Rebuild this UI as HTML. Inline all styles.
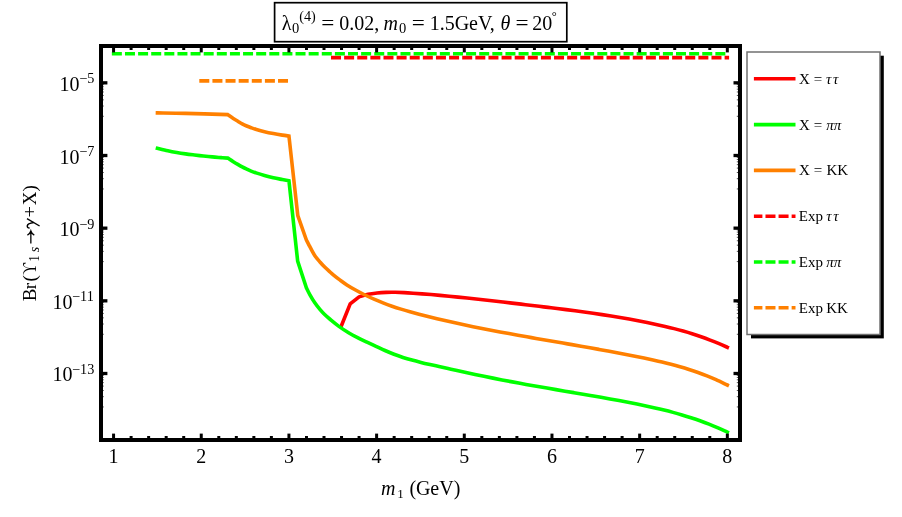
<!DOCTYPE html>
<html><head><meta charset="utf-8"><title>plot</title>
<style>html,body{margin:0;padding:0;background:#fff}svg{display:block;will-change:transform}text{font-family:"Liberation Serif",serif;fill:#000}.i{font-style:italic}</style></head><body>
<svg width="902" height="517" viewBox="0 0 902 517">
<rect width="902" height="517" fill="#fff"/>
<g fill="none" stroke-width="3.6" stroke-linejoin="miter" stroke-linecap="square">
<path stroke="#ff0000" d="M341.30,326.00L350.20,303.80L359.10,296.90C360.60,296.47 365.10,294.96 368.10,294.31C371.10,293.66 374.10,293.31 377.10,292.98C380.10,292.66 383.10,292.48 386.10,292.36C389.10,292.25 392.10,292.25 395.10,292.29C398.10,292.33 401.10,292.46 404.10,292.61C407.10,292.76 410.10,292.97 413.10,293.18C416.10,293.38 419.10,293.61 422.10,293.85C425.10,294.08 428.10,294.32 431.10,294.58C434.10,294.83 437.10,295.09 440.10,295.37C443.10,295.64 446.10,295.92 449.10,296.21C452.10,296.50 455.10,296.79 458.10,297.10C461.10,297.40 464.10,297.71 467.10,298.03C470.10,298.34 473.10,298.66 476.10,298.99C479.10,299.32 482.10,299.65 485.10,299.99C488.10,300.32 491.10,300.66 494.10,301.01C497.10,301.35 500.10,301.70 503.10,302.05C506.10,302.40 509.10,302.75 512.10,303.10C515.10,303.45 518.10,303.81 521.10,304.16C524.10,304.52 527.10,304.87 530.10,305.23C533.10,305.59 536.10,305.94 539.10,306.30C542.10,306.66 545.10,307.02 548.10,307.38C551.10,307.75 554.10,308.11 557.10,308.49C560.10,308.86 563.10,309.23 566.10,309.62C569.10,310.00 572.10,310.39 575.10,310.79C578.10,311.19 581.10,311.59 584.10,312.01C587.10,312.42 590.10,312.84 593.10,313.28C596.10,313.71 599.10,314.16 602.10,314.61C605.10,315.07 608.10,315.54 611.10,316.02C614.10,316.50 617.10,317.00 620.10,317.51C623.10,318.02 626.10,318.54 629.10,319.09C632.10,319.63 635.10,320.19 638.10,320.76C641.10,321.34 644.10,321.93 647.10,322.54C650.10,323.16 653.10,323.79 656.10,324.44C659.10,325.09 662.10,325.76 665.10,326.46C668.10,327.16 671.10,327.87 674.10,328.63C677.10,329.39 680.10,330.18 683.10,331.02C686.10,331.87 689.10,332.75 692.10,333.69C695.10,334.64 698.10,335.64 701.10,336.70C704.10,337.76 707.10,338.89 710.10,340.06C713.10,341.22 716.23,342.51 719.10,343.71C721.97,344.92 725.93,346.68 727.30,347.28"/>
<path stroke="#00ff00" d="M157.45,148.30C159.17,148.71 164.59,150.05 167.80,150.75C171.01,151.45 173.73,151.97 176.70,152.50C179.67,153.03 182.63,153.48 185.60,153.90C188.57,154.32 191.53,154.65 194.50,155.00C197.47,155.35 200.43,155.68 203.40,156.00C206.37,156.32 209.33,156.63 212.30,156.90C215.27,157.17 218.62,157.40 221.20,157.60C223.78,157.80 226.70,158.02 227.80,158.10C228.72,158.69 231.63,160.60 233.30,161.65C234.97,162.70 236.32,163.53 237.80,164.40C239.28,165.28 240.72,166.12 242.20,166.90C243.68,167.68 245.22,168.40 246.70,169.10C248.18,169.80 249.62,170.50 251.10,171.10C252.58,171.70 253.37,171.97 255.60,172.70C257.83,173.43 261.53,174.65 264.50,175.50C267.47,176.35 270.43,177.13 273.40,177.80C276.37,178.47 279.71,179.02 282.30,179.50C284.89,179.98 287.84,180.50 288.95,180.70L297.65,261.00L306.30,287.60C306.93,288.85 308.65,292.52 310.10,295.10C311.55,297.68 313.37,300.72 315.00,303.10C316.63,305.48 318.33,307.54 319.90,309.40C321.47,311.26 322.67,312.57 324.40,314.25C326.13,315.93 327.88,317.48 330.30,319.50C332.72,321.52 335.78,324.10 338.90,326.35C342.02,328.60 345.82,331.10 349.00,333.02C352.18,334.95 355.00,336.36 358.00,337.90C361.00,339.44 364.00,340.82 367.00,342.24C370.00,343.65 373.00,345.01 376.00,346.39C379.00,347.77 382.00,349.20 385.00,350.52C388.00,351.83 391.00,353.12 394.00,354.27C397.00,355.42 400.00,356.46 403.00,357.43C406.00,358.40 409.00,359.27 412.00,360.10C415.00,360.93 418.00,361.68 421.00,362.41C424.00,363.15 427.00,363.83 430.00,364.51C433.00,365.20 436.00,365.85 439.00,366.52C442.00,367.19 445.00,367.86 448.00,368.52C451.00,369.18 454.00,369.85 457.00,370.50C460.00,371.16 463.00,371.82 466.00,372.46C469.00,373.11 472.00,373.76 475.00,374.39C478.00,375.03 481.00,375.66 484.00,376.28C487.00,376.91 490.00,377.52 493.00,378.13C496.00,378.73 499.00,379.33 502.00,379.92C505.00,380.50 508.00,381.08 511.00,381.64C514.00,382.21 517.00,382.77 520.00,383.32C523.00,383.87 526.00,384.40 529.00,384.94C532.00,385.48 535.00,386.00 538.00,386.53C541.00,387.05 544.00,387.57 547.00,388.08C550.00,388.60 553.00,389.11 556.00,389.62C559.00,390.13 562.00,390.64 565.00,391.15C568.00,391.65 571.00,392.16 574.00,392.67C577.00,393.18 580.00,393.69 583.00,394.20C586.00,394.71 589.00,395.23 592.00,395.75C595.00,396.27 598.00,396.79 601.00,397.32C604.00,397.85 607.00,398.38 610.00,398.93C613.00,399.47 616.00,400.02 619.00,400.58C622.00,401.14 625.00,401.70 628.00,402.28C631.00,402.86 634.00,403.44 637.00,404.05C640.00,404.65 643.00,405.27 646.00,405.91C649.00,406.56 652.00,407.21 655.00,407.90C658.00,408.59 661.00,409.30 664.00,410.05C667.00,410.79 670.00,411.57 673.00,412.38C676.00,413.19 679.00,414.04 682.00,414.93C685.00,415.82 688.00,416.74 691.00,417.72C694.00,418.70 697.00,419.71 700.00,420.79C703.00,421.86 706.00,422.98 709.00,424.16C712.00,425.35 714.95,426.56 718.00,427.88C721.05,429.20 725.75,431.40 727.30,432.10"/>
<path stroke="#ff8000" d="M157.45,112.90C162.14,112.98 173.88,113.06 185.60,113.35C197.32,113.64 220.77,114.43 227.80,114.65C228.72,115.29 231.63,117.41 233.30,118.50C234.97,119.59 236.32,120.30 237.80,121.20C239.28,122.10 240.72,123.10 242.20,123.90C243.68,124.70 245.22,125.37 246.70,126.00C248.18,126.63 249.62,127.17 251.10,127.70C252.58,128.23 253.37,128.53 255.60,129.20C257.83,129.87 261.53,130.97 264.50,131.70C267.47,132.43 270.43,133.03 273.40,133.60C276.37,134.17 279.71,134.70 282.30,135.10C284.89,135.50 287.84,135.85 288.95,136.00L297.80,215.60L306.40,240.00C306.85,240.88 308.13,243.45 309.10,245.30C310.07,247.15 311.15,249.23 312.20,251.10C313.25,252.97 314.07,254.65 315.40,256.50C316.73,258.35 318.65,260.43 320.20,262.20C321.75,263.97 323.22,265.62 324.70,267.10C326.18,268.58 327.62,269.77 329.10,271.10C330.58,272.43 331.82,273.63 333.60,275.10C335.38,276.57 337.58,278.27 339.80,279.90C342.02,281.53 344.20,283.17 346.90,284.90C349.60,286.63 352.98,288.59 356.00,290.27C359.02,291.96 362.00,293.52 365.00,295.01C368.00,296.50 371.00,297.88 374.00,299.20C377.00,300.51 380.00,301.73 383.00,302.90C386.00,304.06 389.00,305.15 392.00,306.18C395.00,307.22 398.00,308.19 401.00,309.12C404.00,310.05 407.00,310.93 410.00,311.78C413.00,312.62 416.00,313.43 419.00,314.22C422.00,315.01 425.00,315.76 428.00,316.51C431.00,317.26 434.00,317.99 437.00,318.71C440.00,319.42 443.00,320.12 446.00,320.81C449.00,321.50 452.00,322.17 455.00,322.83C458.00,323.49 461.00,324.14 464.00,324.78C467.00,325.41 470.00,326.04 473.00,326.65C476.00,327.27 479.00,327.87 482.00,328.47C485.00,329.06 488.00,329.65 491.00,330.22C494.00,330.80 497.00,331.37 500.00,331.93C503.00,332.49 506.00,333.05 509.00,333.60C512.00,334.15 515.00,334.69 518.00,335.23C521.00,335.77 524.00,336.30 527.00,336.83C530.00,337.36 533.00,337.88 536.00,338.41C539.00,338.93 542.00,339.45 545.00,339.97C548.00,340.49 551.00,341.01 554.00,341.53C557.00,342.05 560.00,342.56 563.00,343.08C566.00,343.60 569.00,344.12 572.00,344.64C575.00,345.16 578.00,345.68 581.00,346.21C584.00,346.73 587.00,347.26 590.00,347.80C593.00,348.33 596.00,348.87 599.00,349.41C602.00,349.95 605.00,350.50 608.00,351.05C611.00,351.61 614.00,352.17 617.00,352.74C620.00,353.31 623.00,353.88 626.00,354.47C629.00,355.05 632.00,355.64 635.00,356.25C638.00,356.85 641.00,357.46 644.00,358.09C647.00,358.72 650.00,359.35 653.00,360.01C656.00,360.68 659.00,361.35 662.00,362.07C665.00,362.78 668.00,363.51 671.00,364.29C674.00,365.07 677.00,365.88 680.00,366.74C683.00,367.60 686.00,368.50 689.00,369.45C692.00,370.41 695.00,371.41 698.00,372.47C701.00,373.54 704.00,374.66 707.00,375.85C710.00,377.04 712.62,378.10 716.00,379.62C719.38,381.15 725.42,384.11 727.30,385.00"/>
</g>
<g fill="none" stroke-width="3.6" stroke-dasharray="10 3.12">
<line stroke="#ff0000" x1="331.0" y1="57.6" x2="729.1" y2="57.6"/>
<line stroke="#00ff00" x1="111.85" y1="53.7" x2="726" y2="53.7"/>
<line stroke="#ff8000" x1="199.3" y1="80.9" x2="289" y2="80.9"/>
</g>
<rect x="101.0" y="46.0" width="639.0" height="394.0" fill="none" stroke="#000" stroke-width="4.0"/>
<g stroke="#000" stroke-width="3" fill="none">
<line x1="113.57" y1="438.0" x2="113.57" y2="433.6"/><line x1="113.57" y1="48.0" x2="113.57" y2="52.4"/>
<line x1="131.11" y1="438.0" x2="131.11" y2="436.0"/><line x1="131.11" y1="48.0" x2="131.11" y2="50.0"/>
<line x1="148.64" y1="438.0" x2="148.64" y2="436.0"/><line x1="148.64" y1="48.0" x2="148.64" y2="50.0"/>
<line x1="166.18" y1="438.0" x2="166.18" y2="436.0"/><line x1="166.18" y1="48.0" x2="166.18" y2="50.0"/>
<line x1="183.71" y1="438.0" x2="183.71" y2="436.0"/><line x1="183.71" y1="48.0" x2="183.71" y2="50.0"/>
<line x1="201.25" y1="438.0" x2="201.25" y2="433.6"/><line x1="201.25" y1="48.0" x2="201.25" y2="52.4"/>
<line x1="218.79" y1="438.0" x2="218.79" y2="436.0"/><line x1="218.79" y1="48.0" x2="218.79" y2="50.0"/>
<line x1="236.32" y1="438.0" x2="236.32" y2="436.0"/><line x1="236.32" y1="48.0" x2="236.32" y2="50.0"/>
<line x1="253.86" y1="438.0" x2="253.86" y2="436.0"/><line x1="253.86" y1="48.0" x2="253.86" y2="50.0"/>
<line x1="271.39" y1="438.0" x2="271.39" y2="436.0"/><line x1="271.39" y1="48.0" x2="271.39" y2="50.0"/>
<line x1="288.93" y1="438.0" x2="288.93" y2="433.6"/><line x1="288.93" y1="48.0" x2="288.93" y2="52.4"/>
<line x1="306.47" y1="438.0" x2="306.47" y2="436.0"/><line x1="306.47" y1="48.0" x2="306.47" y2="50.0"/>
<line x1="324.00" y1="438.0" x2="324.00" y2="436.0"/><line x1="324.00" y1="48.0" x2="324.00" y2="50.0"/>
<line x1="341.54" y1="438.0" x2="341.54" y2="436.0"/><line x1="341.54" y1="48.0" x2="341.54" y2="50.0"/>
<line x1="359.07" y1="438.0" x2="359.07" y2="436.0"/><line x1="359.07" y1="48.0" x2="359.07" y2="50.0"/>
<line x1="376.61" y1="438.0" x2="376.61" y2="433.6"/><line x1="376.61" y1="48.0" x2="376.61" y2="52.4"/>
<line x1="394.15" y1="438.0" x2="394.15" y2="436.0"/><line x1="394.15" y1="48.0" x2="394.15" y2="50.0"/>
<line x1="411.68" y1="438.0" x2="411.68" y2="436.0"/><line x1="411.68" y1="48.0" x2="411.68" y2="50.0"/>
<line x1="429.22" y1="438.0" x2="429.22" y2="436.0"/><line x1="429.22" y1="48.0" x2="429.22" y2="50.0"/>
<line x1="446.75" y1="438.0" x2="446.75" y2="436.0"/><line x1="446.75" y1="48.0" x2="446.75" y2="50.0"/>
<line x1="464.29" y1="438.0" x2="464.29" y2="433.6"/><line x1="464.29" y1="48.0" x2="464.29" y2="52.4"/>
<line x1="481.83" y1="438.0" x2="481.83" y2="436.0"/><line x1="481.83" y1="48.0" x2="481.83" y2="50.0"/>
<line x1="499.36" y1="438.0" x2="499.36" y2="436.0"/><line x1="499.36" y1="48.0" x2="499.36" y2="50.0"/>
<line x1="516.90" y1="438.0" x2="516.90" y2="436.0"/><line x1="516.90" y1="48.0" x2="516.90" y2="50.0"/>
<line x1="534.43" y1="438.0" x2="534.43" y2="436.0"/><line x1="534.43" y1="48.0" x2="534.43" y2="50.0"/>
<line x1="551.97" y1="438.0" x2="551.97" y2="433.6"/><line x1="551.97" y1="48.0" x2="551.97" y2="52.4"/>
<line x1="569.51" y1="438.0" x2="569.51" y2="436.0"/><line x1="569.51" y1="48.0" x2="569.51" y2="50.0"/>
<line x1="587.04" y1="438.0" x2="587.04" y2="436.0"/><line x1="587.04" y1="48.0" x2="587.04" y2="50.0"/>
<line x1="604.58" y1="438.0" x2="604.58" y2="436.0"/><line x1="604.58" y1="48.0" x2="604.58" y2="50.0"/>
<line x1="622.11" y1="438.0" x2="622.11" y2="436.0"/><line x1="622.11" y1="48.0" x2="622.11" y2="50.0"/>
<line x1="639.65" y1="438.0" x2="639.65" y2="433.6"/><line x1="639.65" y1="48.0" x2="639.65" y2="52.4"/>
<line x1="657.19" y1="438.0" x2="657.19" y2="436.0"/><line x1="657.19" y1="48.0" x2="657.19" y2="50.0"/>
<line x1="674.72" y1="438.0" x2="674.72" y2="436.0"/><line x1="674.72" y1="48.0" x2="674.72" y2="50.0"/>
<line x1="692.26" y1="438.0" x2="692.26" y2="436.0"/><line x1="692.26" y1="48.0" x2="692.26" y2="50.0"/>
<line x1="709.79" y1="438.0" x2="709.79" y2="436.0"/><line x1="709.79" y1="48.0" x2="709.79" y2="50.0"/>
<line x1="727.33" y1="438.0" x2="727.33" y2="433.6"/><line x1="727.33" y1="48.0" x2="727.33" y2="52.4"/>
</g>
<g stroke="#000" stroke-width="3.3" fill="none">
<line x1="103.0" y1="82.83" x2="107.4" y2="82.83"/><line x1="738.0" y1="82.83" x2="733.5" y2="82.83"/>
<line x1="103.0" y1="155.50" x2="107.4" y2="155.50"/><line x1="738.0" y1="155.50" x2="733.5" y2="155.50"/>
<line x1="103.0" y1="228.16" x2="107.4" y2="228.16"/><line x1="738.0" y1="228.16" x2="733.5" y2="228.16"/>
<line x1="103.0" y1="300.83" x2="107.4" y2="300.83"/><line x1="738.0" y1="300.83" x2="733.5" y2="300.83"/>
<line x1="103.0" y1="373.49" x2="107.4" y2="373.49"/><line x1="738.0" y1="373.49" x2="733.5" y2="373.49"/>
</g>
<g stroke="#000" stroke-width="0.8" fill="none" opacity="0.85">
<line x1="103.0" y1="84.67" x2="103.75" y2="84.67"/><line x1="738.0" y1="84.67" x2="736.8" y2="84.67"/>
<line x1="103.0" y1="86.75" x2="103.75" y2="86.75"/><line x1="738.0" y1="86.75" x2="736.8" y2="86.75"/>
<line x1="103.0" y1="89.15" x2="103.75" y2="89.15"/><line x1="738.0" y1="89.15" x2="736.8" y2="89.15"/>
<line x1="103.0" y1="91.98" x2="103.75" y2="91.98"/><line x1="738.0" y1="91.98" x2="736.8" y2="91.98"/>
<line x1="103.0" y1="95.43" x2="103.75" y2="95.43"/><line x1="738.0" y1="95.43" x2="736.8" y2="95.43"/>
<line x1="103.0" y1="99.85" x2="103.75" y2="99.85"/><line x1="738.0" y1="99.85" x2="736.8" y2="99.85"/>
<line x1="103.0" y1="106.02" x2="103.75" y2="106.02"/><line x1="738.0" y1="106.02" x2="736.8" y2="106.02"/>
<line x1="103.0" y1="116.29" x2="103.75" y2="116.29"/><line x1="738.0" y1="116.29" x2="736.8" y2="116.29"/>
<line x1="103.0" y1="157.33" x2="103.75" y2="157.33"/><line x1="738.0" y1="157.33" x2="736.8" y2="157.33"/>
<line x1="103.0" y1="159.42" x2="103.75" y2="159.42"/><line x1="738.0" y1="159.42" x2="736.8" y2="159.42"/>
<line x1="103.0" y1="161.82" x2="103.75" y2="161.82"/><line x1="738.0" y1="161.82" x2="736.8" y2="161.82"/>
<line x1="103.0" y1="164.65" x2="103.75" y2="164.65"/><line x1="738.0" y1="164.65" x2="736.8" y2="164.65"/>
<line x1="103.0" y1="168.10" x2="103.75" y2="168.10"/><line x1="738.0" y1="168.10" x2="736.8" y2="168.10"/>
<line x1="103.0" y1="172.52" x2="103.75" y2="172.52"/><line x1="738.0" y1="172.52" x2="736.8" y2="172.52"/>
<line x1="103.0" y1="178.69" x2="103.75" y2="178.69"/><line x1="738.0" y1="178.69" x2="736.8" y2="178.69"/>
<line x1="103.0" y1="188.95" x2="103.75" y2="188.95"/><line x1="738.0" y1="188.95" x2="736.8" y2="188.95"/>
<line x1="103.0" y1="230.00" x2="103.75" y2="230.00"/><line x1="738.0" y1="230.00" x2="736.8" y2="230.00"/>
<line x1="103.0" y1="232.08" x2="103.75" y2="232.08"/><line x1="738.0" y1="232.08" x2="736.8" y2="232.08"/>
<line x1="103.0" y1="234.48" x2="103.75" y2="234.48"/><line x1="738.0" y1="234.48" x2="736.8" y2="234.48"/>
<line x1="103.0" y1="237.31" x2="103.75" y2="237.31"/><line x1="738.0" y1="237.31" x2="736.8" y2="237.31"/>
<line x1="103.0" y1="240.76" x2="103.75" y2="240.76"/><line x1="738.0" y1="240.76" x2="736.8" y2="240.76"/>
<line x1="103.0" y1="245.18" x2="103.75" y2="245.18"/><line x1="738.0" y1="245.18" x2="736.8" y2="245.18"/>
<line x1="103.0" y1="251.35" x2="103.75" y2="251.35"/><line x1="738.0" y1="251.35" x2="736.8" y2="251.35"/>
<line x1="103.0" y1="261.62" x2="103.75" y2="261.62"/><line x1="738.0" y1="261.62" x2="736.8" y2="261.62"/>
<line x1="103.0" y1="302.67" x2="103.75" y2="302.67"/><line x1="738.0" y1="302.67" x2="736.8" y2="302.67"/>
<line x1="103.0" y1="304.75" x2="103.75" y2="304.75"/><line x1="738.0" y1="304.75" x2="736.8" y2="304.75"/>
<line x1="103.0" y1="307.15" x2="103.75" y2="307.15"/><line x1="738.0" y1="307.15" x2="736.8" y2="307.15"/>
<line x1="103.0" y1="309.98" x2="103.75" y2="309.98"/><line x1="738.0" y1="309.98" x2="736.8" y2="309.98"/>
<line x1="103.0" y1="313.43" x2="103.75" y2="313.43"/><line x1="738.0" y1="313.43" x2="736.8" y2="313.43"/>
<line x1="103.0" y1="317.85" x2="103.75" y2="317.85"/><line x1="738.0" y1="317.85" x2="736.8" y2="317.85"/>
<line x1="103.0" y1="324.02" x2="103.75" y2="324.02"/><line x1="738.0" y1="324.02" x2="736.8" y2="324.02"/>
<line x1="103.0" y1="334.28" x2="103.75" y2="334.28"/><line x1="738.0" y1="334.28" x2="736.8" y2="334.28"/>
<line x1="103.0" y1="375.33" x2="103.75" y2="375.33"/><line x1="738.0" y1="375.33" x2="736.8" y2="375.33"/>
<line x1="103.0" y1="377.41" x2="103.75" y2="377.41"/><line x1="738.0" y1="377.41" x2="736.8" y2="377.41"/>
<line x1="103.0" y1="379.81" x2="103.75" y2="379.81"/><line x1="738.0" y1="379.81" x2="736.8" y2="379.81"/>
<line x1="103.0" y1="382.64" x2="103.75" y2="382.64"/><line x1="738.0" y1="382.64" x2="736.8" y2="382.64"/>
<line x1="103.0" y1="386.09" x2="103.75" y2="386.09"/><line x1="738.0" y1="386.09" x2="736.8" y2="386.09"/>
<line x1="103.0" y1="390.52" x2="103.75" y2="390.52"/><line x1="738.0" y1="390.52" x2="736.8" y2="390.52"/>
<line x1="103.0" y1="396.68" x2="103.75" y2="396.68"/><line x1="738.0" y1="396.68" x2="736.8" y2="396.68"/>
<line x1="103.0" y1="406.95" x2="103.75" y2="406.95"/><line x1="738.0" y1="406.95" x2="736.8" y2="406.95"/>
</g>
<text x="113.6" y="463.2" font-size="20" text-anchor="middle">1</text>
<text x="201.2" y="463.2" font-size="20" text-anchor="middle">2</text>
<text x="288.9" y="463.2" font-size="20" text-anchor="middle">3</text>
<text x="376.6" y="463.2" font-size="20" text-anchor="middle">4</text>
<text x="464.3" y="463.2" font-size="20" text-anchor="middle">5</text>
<text x="552.0" y="463.2" font-size="20" text-anchor="middle">6</text>
<text x="639.7" y="463.2" font-size="20" text-anchor="middle">7</text>
<text x="727.3" y="463.2" font-size="20" text-anchor="middle">8</text>
<text x="59.54" y="90.83" font-size="20">10</text>
<text x="79.19" y="83.23" font-size="14.2">−5</text>
<text x="59.54" y="163.50" font-size="20">10</text>
<text x="79.19" y="155.90" font-size="14.2">−7</text>
<text x="59.54" y="236.16" font-size="20">10</text>
<text x="79.19" y="228.56" font-size="14.2">−9</text>
<text x="52.44" y="308.83" font-size="20">10</text>
<text x="72.09" y="301.23" font-size="14.2">−11</text>
<text x="52.44" y="381.49" font-size="20">10</text>
<text x="72.09" y="373.89" font-size="14.2">−13</text>
<text x="380.98" y="495.20" font-size="20" class="i">m</text>
<text x="397.26" y="497.80" font-size="13.0">1</text>
<text x="409.52" y="495.20" font-size="20">(</text>
<text x="415.88" y="495.20" font-size="20">GeV)</text>
<g transform="translate(35.6,301.0) rotate(-90)">
<text transform="translate(0.20,0.00) scale(1.0,1)" x="-0.55" y="0" font-size="19">B</text>
<text transform="translate(12.20,0.00) scale(1.0,1)" x="-0.38" y="0" font-size="19">r</text>
<text transform="translate(20.40,0.00) scale(1.0,1)" x="-0.83" y="0" font-size="19">(</text>
<text transform="translate(26.50,0.00) scale(0.86,1)" x="-0.40" y="0" font-size="19">ϒ</text>
<text transform="translate(40.60,3.60) scale(0.85,1)" x="-1.23" y="0" font-size="14">1</text>
<text transform="translate(49.00,3.60) scale(1.0,1)" x="-0.17" y="0" font-size="14" class="i">s</text>
<path d="M57.4,-4.75H69.6 M65.9,-8.2Q67.3,-5.6 70.0,-4.75Q67.3,-3.9 65.9,-1.3" fill="none" stroke="#000" stroke-width="1.3"/>
<path d="M82.3,-8.6L75.0,4.0" fill="none" stroke="#000" stroke-width="1.35"/><path d="M73.0,-6.0Q72.9,-8.5 75.2,-8.3Q77.4,-8.0 78.4,-1.9" fill="none" stroke="#000" stroke-width="1.5"/>
<text transform="translate(84.40,0.00) scale(1.08,1)" x="-0.95" y="0" font-size="19">+</text>
<text transform="translate(96.10,0.00) scale(1.0,1)" x="-0.42" y="0" font-size="19">X</text>
<text transform="translate(110.20,0.00) scale(1.0,1)" x="-0.61" y="0" font-size="19">)</text>
</g>
<rect x="274.6" y="2.7" width="292.2" height="39" fill="#fff" stroke="#000" stroke-width="1.7"/>
<text x="281.77" y="29.80" font-size="20">λ</text>
<text x="292.05" y="33.40" font-size="14.5">0</text>
<text x="299.28" y="20.80" font-size="14.2">(4)</text>
<text transform="translate(322.40,29.80) scale(1.16,1)" x="-1.00" y="0" font-size="20">=</text>
<text x="339.24" y="29.80" font-size="20">0.02,</text>
<text x="383.58" y="29.80" font-size="20" class="i">m</text>
<text x="398.95" y="33.40" font-size="14.5">0</text>
<text transform="translate(412.80,29.80) scale(1.16,1)" x="-1.00" y="0" font-size="20">=</text>
<text x="429.64" y="29.80" font-size="20">1.5GeV,</text>
<text x="500.62" y="29.80" font-size="20" class="i">θ</text>
<text transform="translate(516.60,29.80) scale(1.16,1)" x="-1.00" y="0" font-size="20">=</text>
<text x="532.32" y="29.80" font-size="20">20</text>
<text x="551.70" y="19.60" font-size="12.5">°</text>
<rect x="751" y="55.7" width="132.8" height="282.7" fill="#000"/>
<rect x="747" y="52" width="133" height="282.5" fill="#fff" stroke="#707070" stroke-width="1.5"/>
<line x1="753.9" y1="78.8" x2="795.5" y2="78.8" stroke="#ff0000" stroke-width="3.6"/>
<text x="798.97" y="83.70" font-size="15">X</text>
<text x="813.85" y="83.70" font-size="15">=</text>
<text x="826.07" y="83.70" font-size="15" class="i" letter-spacing="1.5">ττ</text>
<line x1="753.9" y1="124.6" x2="795.5" y2="124.6" stroke="#00ff00" stroke-width="3.6"/>
<text x="798.97" y="129.50" font-size="15">X</text>
<text x="813.85" y="129.50" font-size="15">=</text>
<text x="826.32" y="129.50" font-size="15" class="i">ππ</text>
<line x1="753.9" y1="170.4" x2="795.5" y2="170.4" stroke="#ff8000" stroke-width="3.6"/>
<text x="798.97" y="175.30" font-size="15">X</text>
<text x="813.85" y="175.30" font-size="15">=</text>
<text x="826.47" y="175.30" font-size="15">KK</text>
<line x1="753.9" y1="216.2" x2="795.5" y2="216.2" stroke="#ff0000" stroke-width="3.6" stroke-dasharray="10 3.08" stroke-dashoffset="1.5"/>
<text x="798.87" y="221.10" font-size="15">Exp</text>
<text x="826.27" y="221.10" font-size="15" class="i" letter-spacing="1.5">ττ</text>
<line x1="753.9" y1="262.0" x2="795.5" y2="262.0" stroke="#00ff00" stroke-width="3.6" stroke-dasharray="10 3.08" stroke-dashoffset="1.5"/>
<text x="798.87" y="266.90" font-size="15">Exp</text>
<text x="826.32" y="266.90" font-size="15" class="i">ππ</text>
<line x1="753.9" y1="307.8" x2="795.5" y2="307.8" stroke="#ff8000" stroke-width="3.6" stroke-dasharray="10 3.08" stroke-dashoffset="1.5"/>
<text x="798.87" y="312.70" font-size="15">Exp</text>
<text x="826.17" y="312.70" font-size="15">KK</text>
</svg></body></html>
